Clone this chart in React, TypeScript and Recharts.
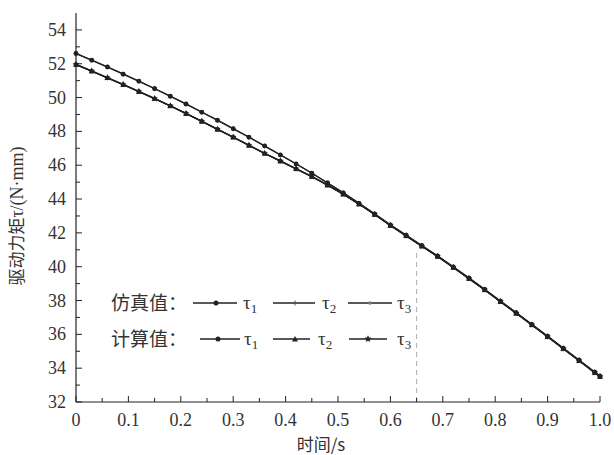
import React from 'react';
import { LineChart, Line, XAxis, YAxis, ReferenceLine } from 'recharts';

// time (s)
const timeS = [
  0, 0.03, 0.06, 0.09, 0.12, 0.15, 0.18, 0.21, 0.24, 0.27, 0.3, 0.33, 0.36, 0.39, 0.42, 0.45, 0.48,
  0.51, 0.54, 0.57, 0.6, 0.63, 0.66, 0.69, 0.72, 0.75, 0.78, 0.81, 0.84, 0.87, 0.9, 0.93, 0.96, 0.99, 1.0,
];

// simulated torques (N·mm)
const simTau1 = [
  52.6, 52.2, 51.8, 51.38, 50.96, 50.52, 50.07, 49.61, 49.13, 48.65, 48.15, 47.65, 47.13, 46.6, 46.07, 45.52, 44.95,
  44.36, 43.74, 43.11, 42.46, 41.85, 41.24, 40.63, 39.98, 39.32, 38.65, 37.96, 37.27, 36.58, 35.88, 35.17, 34.47, 33.76, 33.52,
];
const simTau2 = [
  51.95, 51.56, 51.16, 50.76, 50.35, 49.93, 49.5, 49.05, 48.59, 48.12, 47.65, 47.17, 46.69, 46.24, 45.78, 45.32, 44.82,
  44.28, 43.7, 43.08, 42.43, 41.82, 41.21, 40.6, 39.95, 39.29, 38.62, 37.93, 37.24, 36.55, 35.85, 35.14, 34.44, 33.73, 33.5,
];
const simTau3 = [
  51.95, 51.56, 51.16, 50.76, 50.35, 49.93, 49.5, 49.05, 48.59, 48.12, 47.65, 47.17, 46.69, 46.24, 45.78, 45.32, 44.82,
  44.28, 43.7, 43.08, 42.43, 41.82, 41.21, 40.6, 39.95, 39.29, 38.62, 37.93, 37.24, 36.55, 35.85, 35.14, 34.44, 33.73, 33.5,
];
// calculated torques (N·mm)
const calcTau1 = [
  52.62, 52.22, 51.82, 51.4, 50.98, 50.54, 50.09, 49.63, 49.15, 48.67, 48.17, 47.67, 47.15, 46.62, 46.09, 45.54, 44.97,
  44.38, 43.76, 43.13, 42.48, 41.87, 41.26, 40.65, 40.0, 39.34, 38.67, 37.98, 37.29, 36.6, 35.9, 35.19, 34.49, 33.78, 33.54,
];
const calcTau2 = [
  51.97, 51.58, 51.18, 50.78, 50.37, 49.95, 49.52, 49.07, 48.61, 48.14, 47.67, 47.19, 46.71, 46.26, 45.8, 45.34, 44.84,
  44.3, 43.72, 43.1, 42.45, 41.84, 41.23, 40.62, 39.97, 39.31, 38.64, 37.95, 37.26, 36.57, 35.87, 35.16, 34.46, 33.75, 33.52,
];
const calcTau3 = [
  51.96, 51.57, 51.17, 50.77, 50.36, 49.94, 49.51, 49.06, 48.6, 48.13, 47.66, 47.18, 46.7, 46.25, 45.79, 45.33, 44.83,
  44.29, 43.71, 43.09, 42.44, 41.83, 41.22, 40.61, 39.96, 39.3, 38.63, 37.94, 37.25, 36.56, 35.86, 35.15, 34.45, 33.74, 33.51,
];

const xMajorTicks = [0, 0.1, 0.2, 0.3, 0.4, 0.5, 0.6, 0.7, 0.8, 0.9, 1.0];
const xMajorLabels = ['0', '0.1', '0.2', '0.3', '0.4', '0.5', '0.6', '0.7', '0.8', '0.9', '1.0'];
const xMinorTicks = [0.05, 0.15, 0.25, 0.35, 0.45, 0.55, 0.65, 0.75, 0.85, 0.95];
const yMajorTicks = [32, 34, 36, 38, 40, 42, 44, 46, 48, 50, 52, 54];
const yMajorLabels = ['32', '34', '36', '38', '40', '42', '44', '46', '48', '50', '52', '54'];
const yMinorTicks = [33, 35, 37, 39, 41, 43, 45, 47, 49, 51, 53];

const guideTime = 0.65;
const guideTop = 41.05;

const xTitle = '时间/s';
const yTitleCjk = '驱动力矩';
const yTitleRest = 'τ/(N·mm)';
const simLabel = '仿真值：';
const calcLabel = '计算值：';

const data = timeS.map((t, i) => ({
  t,
  s1: simTau1[i],
  s2: simTau2[i],
  s3: simTau3[i],
  c1: calcTau1[i],
  c2: calcTau2[i],
  c3: calcTau3[i],
}));

const INK = '#222';
const SERIF = '"Liberation Serif", "DejaVu Serif", serif';
const CJK = '"Noto Sans CJK SC", "Liberation Serif", serif';

const near = (a: number, b: number) => Math.abs(a - b) < 1e-6;

const XTick = (props: any) => {
  const { x, y, payload } = props;
  const v = payload.value;
  const idx = xMajorTicks.findIndex((m) => near(m, v));
  const major = idx >= 0;
  return (
    <g>
      <line x1={x} x2={x} y1={y} y2={y - (major ? 6 : 4)} stroke={INK} strokeWidth={1} />
      {major && (
        <text x={x} y={y + 24} textAnchor="middle" style={{ fontFamily: SERIF, fontSize: 18 }} fill="#333">
          {xMajorLabels[idx]}
        </text>
      )}
    </g>
  );
};

const YTick = (props: any) => {
  const { x, y, payload } = props;
  const v = payload.value;
  const idx = yMajorTicks.findIndex((m) => near(m, v));
  const major = idx >= 0;
  return (
    <g>
      <line x1={x} x2={x + (major ? 6 : 4)} y1={y} y2={y} stroke={INK} strokeWidth={1} />
      {major && (
        <text x={x - 10} y={y + 6} textAnchor="end" style={{ fontFamily: SERIF, fontSize: 18 }} fill="#333">
          {yMajorLabels[idx]}
        </text>
      )}
    </g>
  );
};

const circleDot = (r: number, fill: string) => (p: any) => {
  const { cx, cy, index } = p;
  return <circle key={`c${r}${fill}${index}`} cx={cx} cy={cy} r={r} fill={fill} stroke="none" />;
};
const triangleDot = (p: any) => {
  const { cx, cy, index } = p;
  const s = 3;
  return (
    <path key={`t${index}`} d={`M${cx},${cy - s} L${cx + s},${cy + s * 0.8} L${cx - s},${cy + s * 0.8} Z`} fill={INK} />
  );
};
const starPath = (cx: number, cy: number, R: number) => {
  const r = R * 0.45;
  let d = '';
  for (let k = 0; k < 10; k++) {
    const a = -Math.PI / 2 + (k * Math.PI) / 5;
    const rr = k % 2 === 0 ? R : r;
    d += `${k === 0 ? 'M' : 'L'}${cx + rr * Math.cos(a)},${cy + rr * Math.sin(a)} `;
  }
  return d + 'Z';
};
const starDot = (p: any) => {
  const { cx, cy, index } = p;
  return <path key={`s${index}`} d={starPath(cx, cy, 3.5)} fill={INK} />;
};

const Legend = () => {
  const row = (y: number, label: string, items: { x1: number; x2: number; mk: number; tx: number; kind: string; sub: string }[]) => (
    <g>
      <text x={111} y={y + 7} style={{ fontFamily: CJK, fontSize: 19 }} fill="#333">
        {label}
      </text>
      {items.map((it, i) => (
        <g key={i}>
          <line x1={it.x1} x2={it.x2} y1={y} y2={y} stroke={INK} strokeWidth={1.3} />
          {it.kind === 'circle' && <circle cx={it.mk} cy={y} r={2.5} fill={INK} />}
          {it.kind === 'plus' && (
            <g stroke="#555" strokeWidth={1}>
              <line x1={it.mk} x2={it.mk} y1={y - 2.5} y2={y + 2.5} />
            </g>
          )}
          {it.kind === 'dot' && <circle cx={it.mk} cy={y} r={1.8} fill="#777" />}
          {it.kind === 'tri' && (
            <path d={`M${it.mk},${y - 3} L${it.mk + 3},${y + 2.4} L${it.mk - 3},${y + 2.4} Z`} fill={INK} />
          )}
          {it.kind === 'star' && <path d={starPath(it.mk, y, 3.8)} fill={INK} />}
          <text x={it.tx} y={y + 6} style={{ fontFamily: SERIF, fontSize: 19 }} fill="#333">
            τ
            <tspan style={{ fontSize: 13 }} dy={4}>
              {it.sub}
            </tspan>
          </text>
        </g>
      ))}
    </g>
  );
  return (
    <svg width={614} height={455} style={{ position: 'absolute', left: 0, top: 0, pointerEvents: 'none' }}>
      {row(303, simLabel, [
        { x1: 193, x2: 237, mk: 216, tx: 243, kind: 'circle', sub: '1' },
        { x1: 273, x2: 315, mk: 295, tx: 322, kind: 'plus', sub: '2' },
        { x1: 348, x2: 392, mk: 370, tx: 397, kind: 'dot', sub: '3' },
      ])}
      {row(339, calcLabel, [
        { x1: 200, x2: 240, mk: 218, tx: 244, kind: 'circle', sub: '1' },
        { x1: 273, x2: 310, mk: 295, tx: 318, kind: 'tri', sub: '2' },
        { x1: 349, x2: 387, mk: 368, tx: 397, kind: 'star', sub: '3' },
      ])}
      <text transform="translate(23, 216) rotate(-90)" textAnchor="middle" fill="#333">
        <tspan style={{ fontFamily: CJK, fontSize: 17 }}>{yTitleCjk}</tspan>
        <tspan style={{ fontFamily: SERIF, fontSize: 18 }}>{yTitleRest}</tspan>
      </text>
      <text x={321} y={451} textAnchor="middle" style={{ fontFamily: CJK, fontSize: 17 }} fill="#333">
        {xTitle}
      </text>
    </svg>
  );
};

export default function App() {
  return (
    <div style={{ position: 'absolute', left: 0, top: 0, width: 614, height: 455, background: '#fff' }}>
      <LineChart width={614} height={455} data={data} margin={{ top: 13, right: 14, bottom: 0, left: 0 }}>
        <XAxis
          dataKey="t"
          type="number"
          domain={[0, 1]}
          ticks={[...xMajorTicks, ...xMinorTicks].sort((a, b) => a - b)}
          interval={0}
          height={53}
          tickLine={false}
          tickSize={0}
          tickMargin={0}
          tick={<XTick />}
          axisLine={{ stroke: INK, strokeWidth: 1.2 }}
        />
        <YAxis
          type="number"
          domain={[32, 55]}
          ticks={[...yMajorTicks, ...yMinorTicks].sort((a, b) => a - b)}
          interval={0}
          width={76}
          tickLine={false}
          tickSize={0}
          tickMargin={0}
          tick={<YTick />}
          axisLine={{ stroke: INK, strokeWidth: 1.2 }}
          allowDataOverflow
        />
        <ReferenceLine
          segment={[
            { x: guideTime, y: 32 },
            { x: guideTime, y: guideTop },
          ]}
          stroke="#999"
          strokeDasharray="5 4"
          strokeWidth={0.8}
        />
        <Line dataKey="s2" stroke={INK} strokeWidth={1.2} dot={circleDot(2.3, INK)} isAnimationActive={false} />
        <Line dataKey="s3" stroke={INK} strokeWidth={1.2} dot={circleDot(1.6, '#666')} isAnimationActive={false} />
        <Line dataKey="c2" stroke={INK} strokeWidth={1.2} dot={triangleDot} isAnimationActive={false} />
        <Line dataKey="c3" stroke={INK} strokeWidth={1.2} dot={starDot} isAnimationActive={false} />
        <Line dataKey="s1" stroke={INK} strokeWidth={1.2} dot={circleDot(2.4, INK)} isAnimationActive={false} />
        <Line dataKey="c1" stroke={INK} strokeWidth={1.2} dot={circleDot(2.2, INK)} isAnimationActive={false} />
      </LineChart>
      <Legend />
    </div>
  );
}
